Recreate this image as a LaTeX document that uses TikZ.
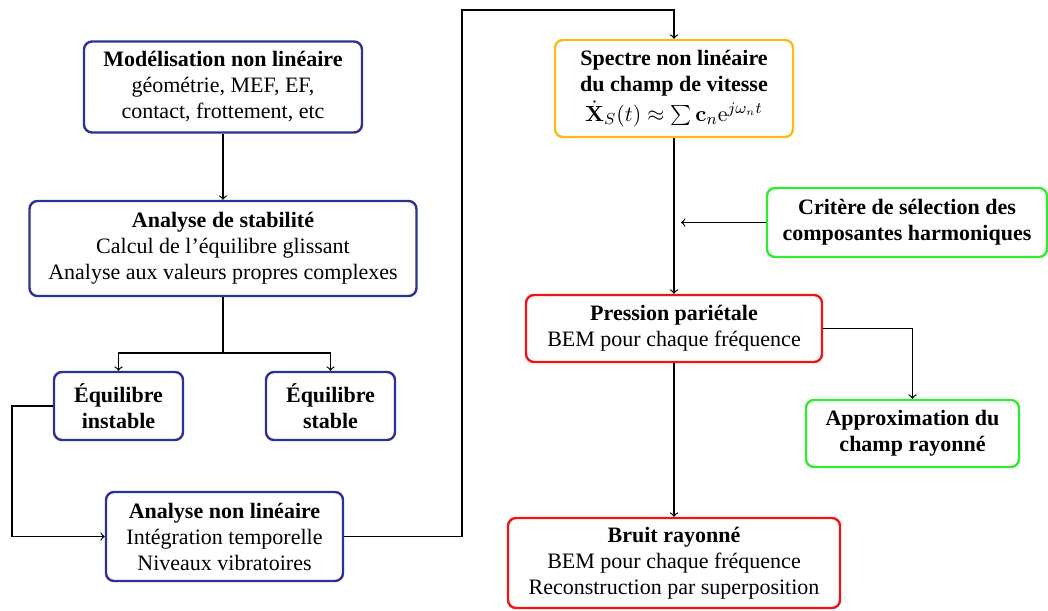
\documentclass[tikz,border=0pt]{standalone}
\usepackage[no-math]{fontspec}
\setmainfont{Liberation Serif}
\begin{document}
\definecolor{navy}{RGB}{46,49,146}
\definecolor{gold}{RGB}{253,184,30}
\definecolor{redb}{RGB}{240,20,20}
\definecolor{greenb}{RGB}{50,235,50}
\begin{tikzpicture}[x=0.5pt,y=-0.5pt,
  box/.style={draw, line width=1.2pt, rounded corners=4pt, align=center, inner sep=0pt,
    font=\fontsize{11}{13}\selectfont},
  bluebox/.style={box, draw=navy},
  goldbox/.style={box, draw=gold},
  redbox/.style={box, draw=redb},
  greenbox/.style={box, draw=greenb},
  arr/.style={->, line width=0.6pt},
  ln/.style={line width=0.6pt}]
\useasboundingbox (0,0) rectangle (1048,610);
\node[bluebox, minimum width=139pt, minimum height=45.5pt] (b1) at (223,87)
  {\textbf{Modélisation non linéaire}\\géométrie, MEF, EF,\\contact, frottement, etc};
\node[bluebox, minimum width=193.5pt, minimum height=47.5pt] (b2) at (223,248.5)
  {\textbf{Analyse de stabilité}\\Calcul de l’équilibre glissant\\Analyse aux valeurs propres complexes};
\node[bluebox, minimum width=64.5pt, minimum height=34pt] (b3) at (118.5,406)
  {\textbf{Équilibre}\\\textbf{instable}};
\node[bluebox, minimum width=64.5pt, minimum height=34pt] (b4) at (330.5,406)
  {\textbf{Équilibre}\\\textbf{stable}};
\node[bluebox, minimum width=118.5pt, minimum height=44.5pt] (b5) at (224.5,536.5)
  {\textbf{Analyse non linéaire}\\Intégration temporelle\\Niveaux vibratoires};
\node[goldbox, minimum width=119pt, minimum height=48.5pt] (b6) at (674,88.5)
  {\textbf{Spectre non linéaire}\\\textbf{du champ de vitesse}\\[2pt]$\dot{\mathbf{X}}_S(t)\approx\sum\mathbf{c}_n\mathrm{e}^{j\omega_n t}$};
\node[greenbox, minimum width=140pt, minimum height=34.5pt] (b7) at (907,222.5)
  {\textbf{Critère de sélection des}\\\textbf{composantes harmoniques}};
\node[redbox, minimum width=148pt, minimum height=33.5pt] (b8) at (674,328.5)
  {\textbf{Pression pariétale}\\BEM pour chaque fréquence};
\node[greenbox, minimum width=106.5pt, minimum height=33.5pt] (b9) at (912.5,433.5)
  {\textbf{Approximation du}\\\textbf{champ rayonné}};
\node[redbox, minimum width=166pt, minimum height=45pt] (b10) at (674,563)
  {\textbf{Bruit rayonné}\\BEM pour chaque fréquence\\Reconstruction par superposition};
\coordinate (sp) at (223,353);
\coordinate (lf) at (12,406);
\coordinate (tp) at (462,10);
\coordinate (cj) at (681,222.5);
\draw[arr] (b1) -- (b2);
\draw[ln] (b2.south) -- (sp);
\draw[arr] (sp) -| (b3.north);
\draw[arr] (sp) -| (b4.north);
\draw[arr] (b3.west) -- (lf) |- (b5.west);
\draw[arr] (b5.east) -| (tp) -| (b6.north);
\draw[arr] (b6) -- (b8);
\draw[arr] (b7.west) -- (cj);
\draw[arr] (b8.east) -| (b9.north);
\draw[arr] (b8) -- (b10);
\end{tikzpicture}
\end{document}
